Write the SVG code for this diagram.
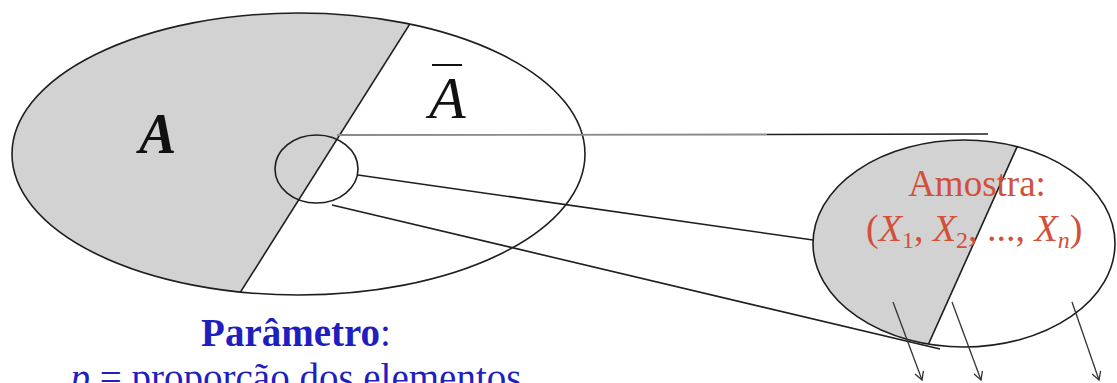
<svg xmlns="http://www.w3.org/2000/svg" width="1117" height="383" viewBox="0 0 1117 383">
<style>
.outline{fill:none;stroke:#1e1e1e;stroke-width:1.6}
.shade{fill:#d2d2d2}
.conn{stroke:#1e1e1e;stroke-width:1.6;fill:none}
.arrow{stroke:#333;stroke-width:1.3;fill:none}
.serif{font-family:"Liberation Serif","Times New Roman",serif}
.red{fill:#d2503a}
.blue{fill:#1f1fbf}
</style>
<defs>
<clipPath id="popClip"><ellipse cx="298.5" cy="154" rx="286.5" ry="141"/></clipPath>
<clipPath id="popLeft"><polygon points="0,0 425,0 183,383 0,383"/></clipPath>
<clipPath id="smpClip"><ellipse cx="964" cy="243.5" rx="151" ry="103.5"/></clipPath>
<clipPath id="smpLeft"><polygon points="700,0 1083,0 911,383 700,383"/></clipPath>
<marker id="vhead" markerWidth="12" markerHeight="12" refX="10" refY="6" orient="auto" markerUnits="userSpaceOnUse">
<path d="M2,1.5 L10,6 L2,10.5" fill="none" stroke="#333" stroke-width="1.3"/>
</marker>
</defs>

<g id="population">
<g clip-path="url(#popLeft)"><ellipse class="shade" cx="298.5" cy="154" rx="286.5" ry="141"/></g>
<g clip-path="url(#popClip)"><line class="conn" x1="425" y1="0" x2="183" y2="383"/></g>
<ellipse class="outline" cx="298.5" cy="154" rx="286.5" ry="141"/>
<text class="serif" x="139" y="153" font-size="56" font-weight="bold" font-style="italic" fill="#111">A</text>
<text class="serif" x="429" y="118" font-size="60" font-style="italic" fill="#111">A</text>
<line x1="432" y1="65" x2="462" y2="65" stroke="#111" stroke-width="2"/>
</g>

<g id="subset">
<ellipse class="outline" cx="316.5" cy="169" rx="41.5" ry="34"/>
</g>

<g id="sample">
<g clip-path="url(#smpLeft)"><ellipse class="shade" cx="964" cy="243.5" rx="151" ry="103.5"/></g>
<g clip-path="url(#smpClip)"><line class="conn" x1="1083" y1="0" x2="911" y2="383"/></g>
<ellipse class="outline" cx="964" cy="243.5" rx="151" ry="103.5"/>
<text class="serif red" x="977" y="196" font-size="37" text-anchor="middle">Amostra:</text>
<text class="serif red" x="866" y="241" font-size="38">(<tspan font-style="italic">X</tspan><tspan font-size="24" dy="7">1</tspan><tspan dy="-7">, </tspan><tspan font-style="italic">X</tspan><tspan font-size="24" dy="7">2</tspan><tspan dy="-7">, ..., </tspan><tspan font-style="italic">X</tspan><tspan font-size="24" font-style="italic" dy="7">n</tspan><tspan dy="-7">)</tspan></text>
</g>

<g id="connectors">
<line x1="337" y1="135" x2="767" y2="134.5" stroke="#8a8a8a" stroke-width="1.8"/>
<line class="conn" x1="767" y1="134.5" x2="988" y2="134"/>
<line class="conn" x1="358" y1="175" x2="813" y2="240"/>
<line class="conn" x1="332" y1="205" x2="940" y2="349"/>
<line class="arrow" x1="893" y1="302" x2="922" y2="380" marker-end="url(#vhead)"/>
<line class="arrow" x1="952" y1="302" x2="981" y2="380" marker-end="url(#vhead)"/>
<line class="arrow" x1="1072" y1="302" x2="1099" y2="380" marker-end="url(#vhead)"/>
</g>

<g id="parameter">
<text class="serif blue" x="296" y="346" font-size="39" text-anchor="middle"><tspan font-weight="bold">Parâmetro</tspan>:</text>
<text class="serif blue" x="296" y="391" font-size="39" text-anchor="middle"><tspan font-style="italic">p</tspan> = proporção dos elementos</text>
</g>
</svg>
